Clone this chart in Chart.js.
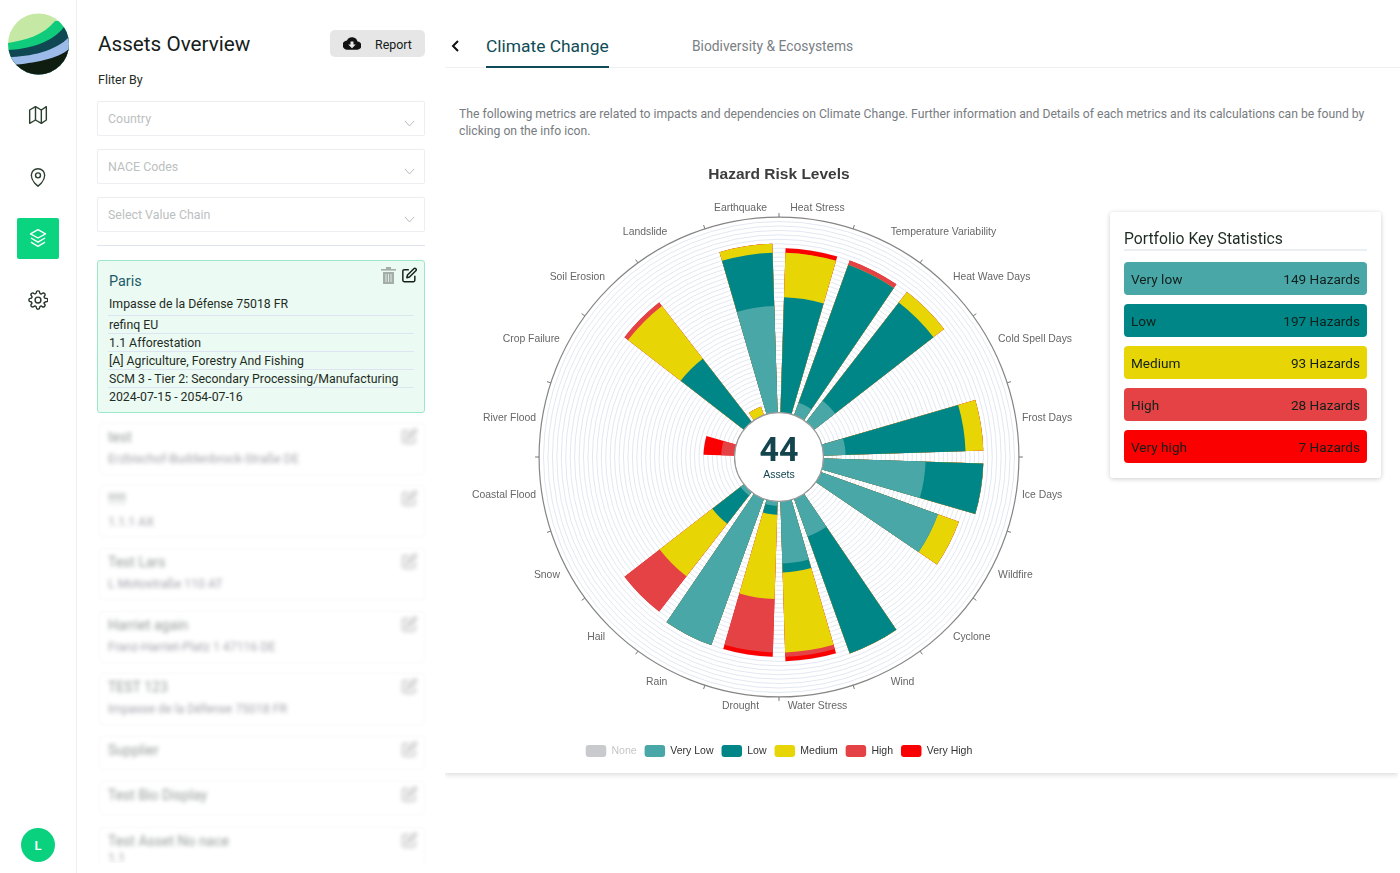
<!DOCTYPE html>
<html>
<head>
<meta charset="utf-8">
<title>Hazard Risk Levels</title>
<script src="https://cdn.jsdelivr.net/npm/chart.js@4"></script>
<style>
html,body{margin:0;padding:0;background:#fff;width:1400px;height:873px;overflow:hidden;font-family:Roboto,"Open Sans",sans-serif;color:#1d2b22}
.a{position:absolute;white-space:nowrap}
.mid{transform:translateY(-50%)}
.sel{position:absolute;left:97px;width:326px;height:33px;border:1px solid #eceef1;border-radius:2px;box-shadow:0 0 1px #eef0f2}
.sel span{position:absolute;left:10px;top:9px;font-size:12.400px;color:#bcbfc1}
.sel svg{position:absolute;left:306px;top:18px}
.row{position:absolute;left:108px;width:306px;height:1px;background:#dfe4f2}
.t{font-size:12.300px;color:#1f2c24}
.card{position:absolute;left:99px;width:324px;border:1px solid #f7f8f8;border-radius:3px;filter:blur(1px)}
.blur{filter:blur(2px);opacity:.55}
.stat{position:absolute;left:1124px;width:243px;height:33px;border-radius:4px;font-size:13.600px;color:#10201c;line-height:34px}
.stat b{font-weight:400;position:absolute;left:7px}
.stat i{font-style:normal;position:absolute;right:7px}
</style>
</head>
<body>
<!-- sidebar -->
<div class="a" style="left:76px;top:0;width:1px;height:873px;background:#eceef0"></div>
<svg class="a" style="left:8px;top:13px" width="61" height="62" viewBox="0 0 61 62">
<defs><clipPath id="c"><circle cx="30.5" cy="31" r="30.5"/></clipPath></defs>
<g clip-path="url(#c)">
<rect width="61" height="62" fill="#c5e9a5"/>
<path d="M0 30 C18 27 36 22 47 8 L61 8 L61 62 L0 62Z" fill="#10cb7c"/>
<path d="M0 37 C20 36 44 30 56 14 L61 14 L61 62 L0 62Z" fill="#0f4752"/>
<path d="M0 44 C22 44 48 38 61 24 L61 62 L0 62Z" fill="#9dbbe9"/>
<path d="M5 52 C25 50 50 46 61 36 L61 62 L0 62Z" fill="#0f1d10"/>
</g></svg>
<svg class="a" style="left:28px;top:105px" width="20" height="20" viewBox="0 0 24 24" fill="none" stroke="#2c3f2f" stroke-width="1.7" stroke-linejoin="round"><path d="M2 6v16l7-4 7 4 6-4V2l-6 4-7-4-7 4z"/><path d="M9 2v16M16 6v16"/></svg>
<svg class="a" style="left:28px;top:167px" width="20" height="20" viewBox="0 0 24 24" fill="none" stroke="#2c3f2f" stroke-width="1.7"><path d="M20 10c0 7-8 13-8 13s-8-6-8-13a8 8 0 0 1 16 0z"/><circle cx="12" cy="10" r="3"/></svg>
<div class="a" style="left:17px;top:218px;width:42px;height:41px;background:#0ad47f;border-radius:2px"></div>
<svg class="a" style="left:28px;top:228px" width="20" height="20" viewBox="0 0 24 24" fill="none" stroke="#fff" stroke-width="1.7" stroke-linejoin="round"><path d="M12 2 3 7l9 5 9-5-9-5z"/><path d="M3.5 12 12 17l8.500-5M3.500 17 12 22l8.500-5"/></svg>
<svg class="a" style="left:28px;top:290px" width="20" height="20" viewBox="0 0 24 24" fill="none" stroke="#24342a" stroke-width="1.7" stroke-linejoin="round"><circle cx="12" cy="12" r="3.500"/><path d="M19.400 15a1.700 1.700 0 0 0 .3 1.800l.1.100a2 2 0 1 1-2.900 2.900l-.1-.1a1.700 1.700 0 0 0-2.800 1.200V21a2 2 0 1 1-4 0v-.1a1.700 1.700 0 0 0-2.900-1.200l-.1.100a2 2 0 1 1-2.900-2.900l.1-.1a1.700 1.700 0 0 0-1.200-2.800H3a2 2 0 1 1 0-4h.1a1.700 1.700 0 0 0 1.200-2.900l-.1-.1a2 2 0 1 1 2.900-2.900l.1.100a1.700 1.700 0 0 0 2.800-1.200V3a2 2 0 1 1 4 0v.1a1.700 1.700 0 0 0 2.900 1.200l.1-.1a2 2 0 1 1 2.900 2.900l-.1.1a1.700 1.700 0 0 0 1.200 2.800h.9a2 2 0 1 1 0 4h-.1a1.700 1.700 0 0 0-1.600 1z"/></svg>
<div class="a" style="left:21px;top:828px;width:34px;height:34px;border-radius:50%;background:#0ad17e;color:#fff;font-size:13px;font-weight:600;text-align:center;line-height:35px">L</div>

<!-- filter column -->
<div class="a mid" style="left:98px;top:44px;font-size:20.700px;color:#15201a">Assets Overview</div>
<div class="a" style="left:330px;top:30px;width:95px;height:27px;background:#e6e6e6;border-radius:5px"></div>
<svg class="a" style="left:343px;top:35px" width="18" height="16" viewBox="0 0 24 20"><path d="M19.300 8A7.500 7.500 0 0 0 5.300 6.500 6 6 0 0 0 6 19h13a5 5 0 0 0 .3-11z" fill="#111"/><path d="M10 8h4v4h3l-5 5-5-5h3z" fill="#e6e6e6"/></svg>
<div class="a mid" style="left:375px;top:44px;font-size:12.400px;color:#15201a">Report</div>
<div class="a mid" style="left:98px;top:79px;font-size:12.500px;color:#1f2c24">Fliter By</div>
<div class="sel" style="top:101px"><span>Country</span><svg width="11" height="7" viewBox="0 0 11 7" fill="none" stroke="#b9bcbf"><path d="M1 1l4.500 5L10 1"/></svg></div>
<div class="sel" style="top:149px"><span>NACE Codes</span><svg width="11" height="7" viewBox="0 0 11 7" fill="none" stroke="#b9bcbf"><path d="M1 1l4.500 5L10 1"/></svg></div>
<div class="sel" style="top:197px"><span>Select Value Chain</span><svg width="11" height="7" viewBox="0 0 11 7" fill="none" stroke="#b9bcbf"><path d="M1 1l4.500 5L10 1"/></svg></div>
<div class="a" style="left:97px;top:245px;width:328px;height:1px;background:#dde4ee"></div>

<div class="a" style="left:97px;top:260px;width:326px;height:151px;background:#ebfaf3;border:1px solid #9ae8c7;border-radius:3px"></div>
<div class="a mid" style="left:109px;top:281px;font-size:14.400px;color:#1b5a68">Paris</div>
<svg class="a" style="left:381px;top:267px" width="15" height="17" viewBox="0 0 15 17" fill="#a4adaa"><rect x="0" y="2" width="15" height="1.600"/><rect x="5" y="0" width="5" height="2"/><path d="M2 5h11v12H2z"/><path d="M5 7v8M7.500 7v8M10 7v8" stroke="#ebfaf3" stroke-width=".8"/></svg>
<svg class="a" style="left:401px;top:267px" width="17" height="16" viewBox="0 0 24 24" fill="none" stroke="#15201a" stroke-width="2.200" stroke-linejoin="round"><path d="M11 4H4a2 2 0 0 0-2 2v14a2 2 0 0 0 2 2h14a2 2 0 0 0 2-2v-7"/><path d="M18.500 2.500a2.100 2.100 0 0 1 3 3L12 15l-4 1 1-4 9.500-9.500z"/></svg>
<div class="a mid t" style="left:109px;top:303.500px">Impasse de la Défense 75018 FR</div>
<div class="row" style="top:315px"></div>
<div class="a mid t" style="left:109px;top:324.500px">refinq EU</div>
<div class="row" style="top:333px"></div>
<div class="a mid t" style="left:109px;top:342.500px">1.1 Afforestation</div>
<div class="row" style="top:351px"></div>
<div class="a mid t" style="left:109px;top:360.500px">[A] Agriculture, Forestry And Fishing</div>
<div class="row" style="top:369px"></div>
<div class="a mid t" style="left:109px;top:378.500px">SCM 3 - Tier 2: Secondary Processing/Manufacturing</div>
<div class="row" style="top:387px"></div>
<div class="a mid t" style="left:109px;top:396.500px">2024-07-15 - 2054-07-16</div>

<!-- blurred asset list -->
<div class="a" id="list" style="left:90px;top:416px;width:345px;height:447px;overflow:hidden"></div>

<!-- tabs -->
<svg class="a" style="left:451px;top:40px" width="9" height="12" viewBox="0 0 9 12" fill="none" stroke="#111" stroke-width="2"><path d="M7 1 2 6l5 5"/></svg>
<div class="a mid" style="left:486px;top:46px;font-size:17.400px;color:#0f4c57">Climate Change</div>
<div class="a mid" style="left:692px;top:46px;font-size:13.800px;color:#7b8084">Biodiversity &amp; Ecosystems</div>
<div class="a" style="left:445px;top:67px;width:955px;height:1px;background:#eef0f1"></div>
<div class="a" style="left:486px;top:66px;width:123px;height:2px;background:#0f4c57"></div>

<!-- chart card -->
<div class="a" style="left:445px;top:68px;width:953px;height:705px;background:#fff;box-shadow:0 2px 5px rgba(0,0,0,.14);clip-path:inset(0 0 -10px 0)"></div>
<div class="a mid" style="left:459px;top:114px;font-size:12.200px;color:#777c7f">The following metrics are related to impacts and dependencies on Climate Change. Further information and Details of each metrics and its calculations can be found by</div>
<div class="a mid" style="left:459px;top:131px;font-size:12.200px;color:#777c7f">clicking on the info icon.</div>

<canvas id="radial" class="a" style="left:449px;top:150px;width:660px;height:620px" width="660" height="620"></canvas>

<!-- statistics card -->
<div class="a" style="left:1110px;top:212px;width:271px;height:266px;background:#fff;border-radius:3px;box-shadow:0 1px 5px rgba(0,0,0,.2)"></div>
<div class="a mid" style="left:1124px;top:238px;font-size:15.700px;color:#1d2b22">Portfolio Key Statistics</div>
<div class="a" style="left:1124px;top:249px;width:243px;height:2px;background:#eaeff4"></div>
<div id="stats"></div>

<script>
const hazards = ["Heat Stress","Temperature Variability","Heat Wave Days","Cold Spell Days","Frost Days","Ice Days","Wildfire","Cyclone","Wind","Water Stress","Drought","Rain","Hail","Snow","Coastal Flood","River Flood","Crop Failure","Soil Erosion","Landslide","Earthquake"];
const veryLow  = [0,3,6,0,5,23,28,0,9,14,1,35,1,0,0,0,0,0,0,24];
const low      = [26,33,28,0,27,13,0,0,28,2,2,0,8,0,0,0,0,18,0,12];
const medium   = [10,0,3,0,4,0,5,0,0,18,19,0,15,0,0,0,0,15,2,2];
const high     = [0,1,0,0,0,0,0,0,0,1,12,0,10,0,0,3,0,1,0,0];
const veryHigh = [1,0,0,0,0,0,0,0,0,1,1,0,0,0,0,4,0,0,0,0];
const legendNames = ["None","Very Low","Low","Medium","High","Very High"];
const legendColors = ["#c9cacd","#4aa7a7","#008686","#e8d505","#e44244","#fb0000"];
const statNames = ["Very low","Low","Medium","High","Very high"];
const statCounts = [149,197,93,28,7];
const assetCount = 44;
const blurredAssets = [
  ["test","Erzbischof-Buddenbrock-Straße DE",437,459],
  ["!!!!!","1.1.1 AX",499,522],
  ["Test Lars","L Motostraße 110 AT",562,584],
  ["Harriet again","Franz-Harriet-Platz 1 47116 DE",625,647],
  ["TEST 123","Impasse de la Défense 75018 FR",687,709],
  ["Supplier","",750,0],
  ["Test Bio Display","",795,0],
  ["Test Asset No nace","1.1",841,858]
];

// statistics + blurred list (page furniture)
document.getElementById('stats').innerHTML = statNames.map((n,i)=>
  `<div class="stat" style="top:${262+i*42}px;background:${legendColors[i+1]}"><b>${n}</b><i>${statCounts[i]} Hazards</i></div>`).join('');
document.getElementById('list').innerHTML = blurredAssets.map(a=>{
  const pen = `<svg class="a blur" style="left:311px;top:${a[2]-416-9}px" width="17" height="16" viewBox="0 0 24 24" fill="none" stroke="#777" stroke-width="2.200"><path d="M11 4H4a2 2 0 0 0-2 2v14a2 2 0 0 0 2 2h14a2 2 0 0 0 2-2v-7"/><path d="M18.500 2.500a2.100 2.100 0 0 1 3 3L12 15l-4 1 1-4 9.500-9.500z"/></svg>`;
  const box = `<div class="card" style="left:9px;top:${a[2]-416-14}px;height:${a[3]?50:32}px"></div>`;
  const t = `<div class="a mid blur t" style="left:18px;top:${a[2]-416}px;font-size:14px;color:#3a4a44">${a[0]}</div>`;
  const s = a[3]?`<div class="a mid blur t" style="left:18px;top:${a[3]-416}px;color:#556">${a[1]}</div>`:'';
  return box+t+s+pen;
}).join('');

// Each sector: leading gap, then the wedge. Wedges take 80% of the 18 degree sector.
const wedge = 14.4, gap = 3.6;
const spaced = arr => arr.flatMap(v => [0, v]);
const labels = hazards.flatMap(h => ["", h]);
const cumulative = [veryLow, low, medium, high, veryHigh].map((_, k, all) =>
  hazards.map((_, i) => all.slice(0, k + 1).reduce((s, a) => s + a[i], 0)));

const hubAndTicks = {
  id: 'hubAndTicks',
  afterLayout(chart){
    // Near-vertical labels sit centred on their spoke; near-horizontal ones centred vertically
    const s = chart.scales.r;
    (s._pointLabelItems||[]).forEach((it,i)=>{
      if (i%2===1) {
        const h = (i-1)/2;
        if (h===0||h===9||h===10||h===19) it.textAlign='center';
        const half = (it.bottom-it.top)/2;
        if (h===4||h===15) it.y += half;
        if (h===5||h===14) it.y -= half;
      }
    });
  },
  afterDatasetsDraw(chart){
    const s = chart.scales.r, c = chart.ctx;
    const r0 = s.getDistanceFromCenterForValue(0);
    c.save();
    c.beginPath(); c.arc(s.xCenter, s.yCenter, r0, 0, Math.PI*2);
    c.fillStyle='#fff'; c.fill();
    c.lineWidth=1.2; c.strokeStyle='#9a9a9a'; c.stroke();
    c.textAlign='center'; c.textBaseline='middle'; c.fillStyle='#14454f';
    c.font='700 34px Roboto'; c.fillText(String(assetCount), s.xCenter, s.yCenter-5);
    c.font='500 10.5px "Liberation Sans"'; c.fillText('Assets', s.xCenter, s.yCenter+18.5);
    // outer ticks at sector boundaries
    const R = s.drawingArea;
    c.strokeStyle='#777'; c.lineWidth=1;
    hazards.forEach((_,i)=>{
      const a = s.getPointPosition(i*2, R), b = s.getPointPosition(i*2, R+4);
      c.beginPath(); c.moveTo(a.x,a.y); c.lineTo(b.x,b.y); c.stroke();
    });
    c.restore();
  }
};

new Chart(document.getElementById('radial'), {
  type: 'polarArea',
  plugins: [hubAndTicks],
  data: {
    labels,
    datasets: cumulative.map((vals, k) => ({
      label: legendNames[k+1],
      data: spaced(vals),
      backgroundColor: legendColors[k+1],
      borderWidth: 0,
      angle: ctx => ctx.dataIndex % 2 ? wedge : (ctx.dataIndex === 0 ? gap/2 : gap)
    }))
  },
  options: {
    responsive: false,
    animation: false,
    devicePixelRatio: 1,
    layout: { padding: { bottom: 3 } },
    scales: {
      r: {
        min: -10, max: 44,
        ticks: { display: false, stepSize: 1 },
        angleLines: { display: false },
        grid: {
          circular: true,
          color: ctx => ctx.tick.value === 44 ? '#858585' : '#e2e7f2',
          lineWidth: ctx => ctx.tick.value === 44 ? 1.2 : 1
        },
        pointLabels: { display: true, padding: 6, color: '#666', font: { family: '"Liberation Sans"', size: 10.4 } }
      }
    },
    plugins: {
      tooltip: { enabled: false },
      title: { display: true, text: 'Hazard Risk Levels', color: '#3c3c3c',
        font: { family: '"Liberation Sans"', size: 15.5, weight: 'bold' }, padding: { top: 15, bottom: 15 } },
      legend: {
        position: 'bottom',
        title: { display: true, text: '', padding: { top: 2, bottom: 4 } },
        labels: {
          boxWidth: 20.5, boxHeight: 12, padding: 8, useBorderRadius: true, borderRadius: 3,
          font: { family: '"Liberation Sans"', size: 10.5 }, color: '#333',
          generateLabels: () => legendNames.map((n,i)=>({
            text: n, fillStyle: legendColors[i], strokeStyle: legendColors[i], lineWidth: 0,
            fontColor: i===0 ? '#c6c6c6' : '#333', hidden: false, borderRadius: 3, datasetIndex: i
          }))
        }
      }
    }
  }
});
</script>
</body>
</html>
